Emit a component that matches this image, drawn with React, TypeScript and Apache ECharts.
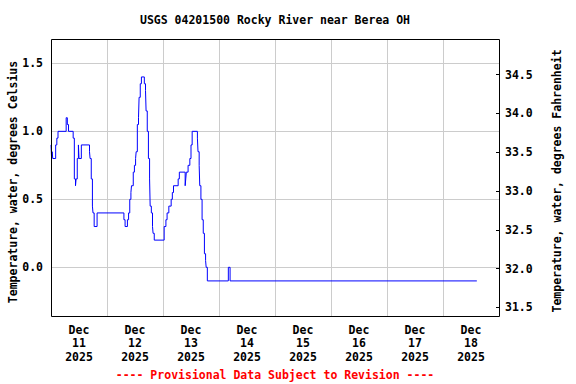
import React, { useEffect, useRef } from "react";
import * as echarts from "echarts";

const titleText = "USGS 04201500 Rocky River near Berea OH";
const leftAxisTitle = "Temperature, water, degrees Celsius";
const rightAxisTitle = "Temperature, water, degrees Fahrenheit";
const footerText = "---- Provisional Data Subject to Revision ----";

const dayLabels = ["11", "12", "13", "14", "15", "16", "17", "18"];
const monthLabel = "Dec";
const yearLabel = "2025";

const celsiusTicks = [0.0, 0.5, 1.0, 1.5];
const fahrenheitTicks = [31.5, 32.0, 32.5, 33.0, 33.5, 34.0, 34.5];

// Times at which the water temperature changed, and the value held from then on
const readingTimes = [
  "2025-12-11T00:00", "2025-12-11T00:15", "2025-12-11T00:30", "2025-12-11T00:45",
  "2025-12-11T02:00", "2025-12-11T02:30", "2025-12-11T03:00", "2025-12-11T06:30",
  "2025-12-11T07:00", "2025-12-11T07:30", "2025-12-11T09:30", "2025-12-11T10:00",
  "2025-12-11T10:30", "2025-12-11T10:45", "2025-12-11T11:15", "2025-12-11T11:45",
  "2025-12-11T12:00", "2025-12-11T13:00", "2025-12-11T16:30", "2025-12-11T16:45",
  "2025-12-11T17:15", "2025-12-11T17:45", "2025-12-11T18:00", "2025-12-11T18:30",
  "2025-12-11T19:45",
  "2025-12-12T07:15", "2025-12-12T07:45", "2025-12-12T08:45", "2025-12-12T09:15",
  "2025-12-12T09:45", "2025-12-12T10:15", "2025-12-12T10:30", "2025-12-12T11:15",
  "2025-12-12T11:45", "2025-12-12T12:15", "2025-12-12T12:30", "2025-12-12T13:00",
  "2025-12-12T13:30", "2025-12-12T13:45", "2025-12-12T14:15", "2025-12-12T14:45",
  "2025-12-12T16:00", "2025-12-12T16:30", "2025-12-12T16:45", "2025-12-12T17:15",
  "2025-12-12T17:45", "2025-12-12T18:15", "2025-12-12T18:30", "2025-12-12T19:00",
  "2025-12-12T19:30", "2025-12-12T19:45", "2025-12-12T20:15",
  "2025-12-13T00:30", "2025-12-13T01:15", "2025-12-13T01:45", "2025-12-13T02:30",
  "2025-12-13T03:30", "2025-12-13T04:00", "2025-12-13T04:30", "2025-12-13T06:30",
  "2025-12-13T07:00", "2025-12-13T09:30", "2025-12-13T09:45", "2025-12-13T10:00",
  "2025-12-13T10:45", "2025-12-13T11:30", "2025-12-13T12:00", "2025-12-13T12:30",
  "2025-12-13T14:45", "2025-12-13T15:00", "2025-12-13T15:30", "2025-12-13T15:45",
  "2025-12-13T16:15", "2025-12-13T16:45", "2025-12-13T17:15", "2025-12-13T17:45",
  "2025-12-13T18:15", "2025-12-13T18:30", "2025-12-13T19:00",
  "2025-12-14T04:00", "2025-12-14T04:45",
  "2025-12-18T14:30",
];
const tempC = [
  0.9, 0.8, 0.85, 0.8,
  0.9, 0.95, 1.0, 1.1,
  1.05, 1.0, 0.95, 0.65,
  0.6, 0.65, 0.8, 0.9,
  0.8, 0.9, 0.85, 0.8,
  0.65, 0.45, 0.4, 0.3,
  0.4,
  0.35, 0.3, 0.35, 0.4,
  0.5, 0.55, 0.6, 0.7,
  0.75, 0.8, 0.85, 1.05,
  1.1, 1.25, 1.35, 1.4,
  1.35, 1.3, 1.15, 1.0,
  0.8, 0.65, 0.45, 0.4,
  0.3, 0.25, 0.2,
  0.3, 0.35, 0.4, 0.45,
  0.5, 0.55, 0.6, 0.65,
  0.7, 0.6, 0.65, 0.7,
  0.75, 0.8, 0.9, 1.0,
  0.95, 0.85, 0.75, 0.6,
  0.5, 0.35, 0.25, 0.1,
  0.05, 0.0, -0.1,
  0.0, -0.1,
  -0.1,
];

const axisStart = "2025-12-11T00:00";
const axisEnd = "2025-12-19T00:00";
const celsiusRange = [-0.358, 1.679];
const fahrenheitRange = [31.39, 34.96];

const FONT = "'DejaVu Sans Mono', 'Liberation Mono', monospace";

const toMs = (s: string) => Date.parse(s + ":00Z");

export default function App() {
  const ref = useRef<HTMLDivElement>(null);

  useEffect(() => {
    if (!ref.current) return;
    const chart = echarts.init(ref.current, undefined, { renderer: "svg" });
    const data = readingTimes.map((t, i) => [toMs(t), tempC[i]]);
    const gridLeft = 51;
    const gridTop = 39;
    const gridW = 448;
    const gridH = 277;
    const labelStyle = {
      fontFamily: FONT,
      fontWeight: "bold" as const,
      fontSize: 11.5,
      color: "#000",
    };
    const textStyle = (text: string, fill = "#000") => ({
      text,
      fontFamily: FONT,
      fontWeight: "bold",
      fontSize: 11.5,
      fill,
      align: "center",
      verticalAlign: "middle",
    });

    chart.setOption({
      animation: false,
      backgroundColor: "#fff",
      grid: { left: gridLeft, top: gridTop, width: gridW, height: gridH, containLabel: false },
      xAxis: [
        {
          type: "category",
          data: dayLabels,
          boundaryGap: true,
          axisLine: { show: false },
          axisTick: { show: false },
          splitLine: {
            show: true,
            showMinLine: false,
            showMaxLine: false,
            lineStyle: { color: "#cccccc", width: 1 },
          },
          axisLabel: {
            interval: 0,
            margin: 7,
            lineHeight: 13.5,
            ...labelStyle,
            formatter: (d: string) => `${monthLabel}\n${d}\n${yearLabel}`,
          },
        },
        {
          type: "time",
          show: false,
          min: toMs(axisStart),
          max: toMs(axisEnd),
        },
      ],
      yAxis: [
        {
          type: "value",
          position: "left",
          min: celsiusRange[0],
          max: celsiusRange[1],
          axisLine: { show: false },
          axisTick: { show: false, customValues: celsiusTicks },
          splitLine: {
            show: true,
            lineStyle: { color: "#cccccc", width: 1 },
          },
          axisLabel: {
            margin: 8,
            ...labelStyle,
            customValues: celsiusTicks,
            formatter: (v: number) => Number(v).toFixed(1),
          },
        },
        {
          type: "value",
          position: "right",
          min: fahrenheitRange[0],
          max: fahrenheitRange[1],
          axisLine: { show: false },
          axisTick: {
            show: true,
            inside: true,
            length: 3,
            customValues: fahrenheitTicks,
            lineStyle: { color: "#000", width: 1 },
          },
          splitLine: { show: false },
          axisLabel: {
            margin: 6,
            ...labelStyle,
            customValues: fahrenheitTicks,
            formatter: (v: number) => Number(v).toFixed(1),
          },
        },
      ],
      series: [
        {
          type: "line",
          xAxisIndex: 1,
          yAxisIndex: 0,
          step: "end",
          data,
          showSymbol: false,
          symbol: "none",
          lineStyle: { color: "#0000ff", width: 1 },
          silent: true,
        },
      ],
      graphic: [
        {
          type: "rect",
          shape: { x: gridLeft + 0.5, y: gridTop + 0.5, width: gridW, height: gridH },
          style: { fill: "none", stroke: "#000", lineWidth: 1 },
          z: 100,
          silent: true,
        },
        { type: "text", x: 275, y: 20, style: textStyle(titleText) },
        { type: "text", x: 13, y: 182, rotation: Math.PI / 2, style: textStyle(leftAxisTitle) },
        { type: "text", x: 557, y: 181, rotation: Math.PI / 2, style: textStyle(rightAxisTitle) },
        { type: "text", x: 275, y: 375, style: textStyle(footerText, "#ff0000") },
      ],
    });

    return () => chart.dispose();
  }, []);

  return <div ref={ref} style={{ width: 576, height: 384, position: "absolute", left: 0, top: 0 }} />;
}
